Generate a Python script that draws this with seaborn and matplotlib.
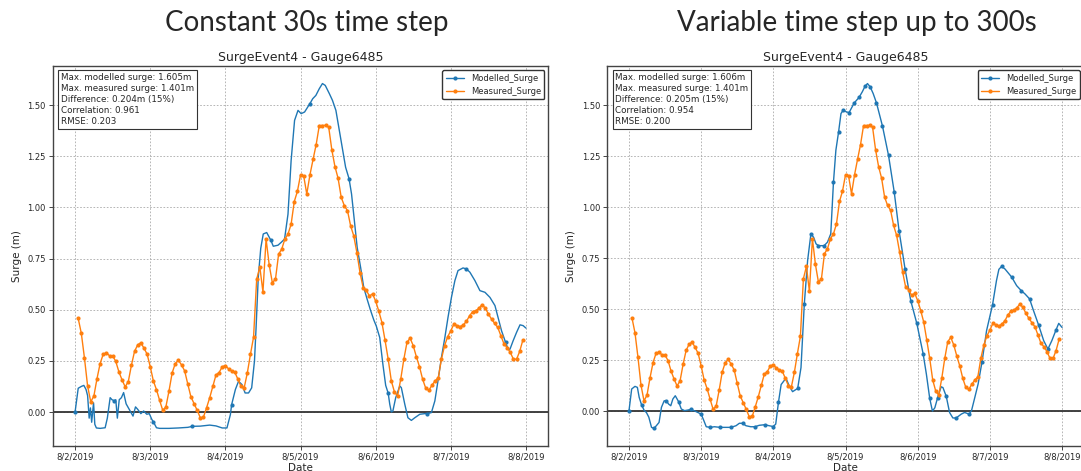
import pandas as pd
import numpy as np
from matplotlib import pyplot as plt
import matplotlib.dates as mdates
from matplotlib.ticker import MultipleLocator, FuncFormatter
import seaborn as sns

start = pd.Timestamp('2019-08-02')

# measured surge, hourly from 8/2 01:00 to 8/7 23:00 (same gauge data in both runs)
meas_hours = np.arange(1, 144)
meas_surge = [0.457, 0.384, 0.263, 0.127, 0.05, 0.078, 0.163, 0.237, 0.283, 0.289,
              0.275, 0.275, 0.247, 0.196, 0.157, 0.123, 0.149, 0.229, 0.297, 0.328,
              0.338, 0.312, 0.283, 0.222, 0.152, 0.109, 0.057, 0.008, 0.025, 0.103,
              0.191, 0.237, 0.253, 0.230, 0.201, 0.136, 0.074, 0.041, 0.008, -0.028,
              -0.025, 0.021, 0.070, 0.126, 0.181, 0.193, 0.221, 0.227, 0.211, 0.201,
              0.195, 0.16, 0.125, 0.118, 0.19, 0.281, 0.366, 0.649, 0.709, 0.587,
              0.845, 0.719, 0.632, 0.649, 0.771, 0.796, 0.845, 0.869, 0.918, 1.028,
              1.078, 1.158, 1.155, 1.065, 1.158, 1.234, 1.307, 1.400, 1.400, 1.401,
              1.392, 1.281, 1.199, 1.142, 1.049, 1.008, 0.984, 0.910, 0.861, 0.779,
              0.681, 0.608, 0.595, 0.567, 0.577, 0.542, 0.493, 0.437, 0.35, 0.258,
              0.152, 0.098, 0.078, 0.160, 0.258, 0.340, 0.361, 0.324, 0.270, 0.221,
              0.160, 0.116, 0.106, 0.132, 0.152, 0.168, 0.258, 0.324, 0.368, 0.397,
              0.430, 0.422, 0.417, 0.426, 0.443, 0.471, 0.490, 0.495, 0.507, 0.525,
              0.508, 0.479, 0.454, 0.433, 0.413, 0.373, 0.332, 0.315, 0.291, 0.258,
              0.258, 0.296, 0.351]

# modelled surge, constant 30s time step
const_hours = [0, 0.5, 1, 2, 2.8, 3.5, 4, 4.5, 4.9, 5.3, 5.9, 6.3, 6.8, 8, 9.6, 10.3,
               11.2, 11.8, 12.5, 13, 13.5, 14.1, 14.8, 15.5, 16.3, 17.6, 18.5, 19.3, 20,
               21, 21.9, 22.9, 23.7, 24.5, 25, 26, 27, 30, 33, 36, 37.5, 40, 43, 45, 47,
               48.5, 49.6, 50, 51.2, 52.2, 53.3, 54.3, 55.4, 56.4, 57.3, 57.8, 58.5, 59.3,
               60.1, 61.2, 62.5, 63.3, 64.8, 65.9, 66.9, 68, 69, 70.1, 71.2, 72.2, 73.3,
               75, 75.9, 76.9, 78, 79, 79.9, 81.2, 82.2, 83.3, 84.3, 85.4, 86.4, 87.5,
               88.3, 89.2, 90.1, 91.2, 92.2, 93.3, 94.3, 95.4, 96.2, 97.3, 98.3, 99.2,
               100, 100.5, 101, 101.5, 102.4, 103.7, 104.2, 105.3, 106.3, 107.4, 108.5,
               110.1, 111.7, 112.5, 113.8, 114.9, 115.9, 117, 118.1, 119.1, 120.2, 121.3,
               122.3, 123.9, 125, 126.1, 127.7, 129.3, 130.9, 132.5, 134.1, 135.1, 136.2,
               137.5, 138.3, 138.9, 139.9, 141, 142.1, 143.1, 144]
const_surge = [0.0, 0.06, 0.116, 0.125, 0.13, 0.11, 0.08, -0.03, 0.02, -0.05, 0.045,
               -0.06, -0.078, -0.08, -0.077, -0.03, 0.07, 0.06, 0.055, 0.06, -0.03, 0.06,
               0.07, 0.095, 0.04, 0.005, -0.02, 0.025, 0.013, -0.008, 0.005, -0.011,
               -0.008, -0.036, -0.048, -0.077, -0.08, -0.08, -0.078, -0.075, -0.07,
               -0.069, -0.064, -0.068, -0.078, -0.078, -0.013, 0.036, 0.11, 0.15, 0.134,
               0.093, 0.093, 0.118, 0.25, 0.41, 0.657, 0.80, 0.87, 0.877, 0.84, 0.81,
               0.815, 0.83, 0.845, 0.967, 1.229, 1.425, 1.474, 1.458, 1.466, 1.507, 1.531,
               1.547, 1.580, 1.605, 1.596, 1.556, 1.523, 1.474, 1.384, 1.286, 1.196, 1.14,
               1.065, 0.935, 0.804, 0.706, 0.608, 0.55, 0.50, 0.45, 0.42, 0.364, 0.234,
               0.13, 0.092, 0.038, 0.0, 0.005, 0.07, 0.127, 0.119, 0.038, -0.028, -0.041,
               -0.028, -0.011, -0.008, -0.008, -0.003, 0.054, 0.152, 0.266, 0.364, 0.462,
               0.560, 0.642, 0.691, 0.704, 0.699, 0.683, 0.642, 0.593, 0.585, 0.560,
               0.520, 0.462, 0.397, 0.340, 0.307, 0.307, 0.348, 0.389, 0.426, 0.422,
               0.410]
const_marks = [0, 12.5, 25, 37.5, 50, 62.5, 75, 87.5, 100, 112.5, 125, 137.5]

# modelled surge, variable time step up to 300s
var_hours = [0, 0.9, 2, 2.8, 3.4, 4.2, 5.1, 5.8, 6.6, 7.5, 8.3, 9.1, 10, 10.8, 11.7,
             12.4, 13.2, 13.9, 14.6, 15.4, 16.5, 17.4, 18.5, 19.6, 20.5, 21.6, 22.9, 24,
             24.9, 25.7, 27.1, 28.4, 30.3, 32.3, 33.9, 35.6, 36.7, 37.8, 38.9, 40.5,
             41.9, 43.3, 45.2, 46.6, 48, 48.8, 49.7, 50.6, 52.2, 53.3, 54.4, 56.1, 57.2,
             58.3, 59.4, 60.5, 61.4, 62.2, 63, 64.9, 66, 67.1, 68, 68.8, 69.7, 70.5,
             71.2, 72.3, 73.2, 74.9, 76.5, 77.6, 78.5, 79.3, 80.2, 81.2, 82.3, 84.3,
             86.3, 88.2, 89.8, 91.8, 93.7, 95.7, 97.8, 98.9, 100, 100.9, 101.7, 102.6,
             103.8, 104.4, 105.5, 106.6, 107.7, 108.8, 110.5, 111.6, 113.1, 113.9, 115,
             116.1, 117.4, 118.9, 120.9, 122.2, 123, 123.9, 125, 127.3, 128.9, 130.4,
             131.7, 133.2, 134.5, 136.2, 137.9, 139.3, 140.6, 142, 142.9, 144]
var_surge = [0.0, 0.108, 0.121, 0.116, 0.067, 0.03, 0.002, -0.007, -0.03, -0.08, -0.085,
             -0.072, -0.056, 0.018, 0.05, 0.05, 0.034, 0.026, 0.059, 0.075, 0.046, 0.01,
             0.002, 0.005, 0.008, 0.002, -0.007, -0.015, -0.047, -0.077, -0.08, -0.077,
             -0.08, -0.08, -0.08, -0.072, -0.06, -0.06, -0.072, -0.077, -0.077, -0.07,
             -0.067, -0.072, -0.076, -0.064, 0.042, 0.13, 0.161, 0.123, 0.095, 0.111,
             0.213, 0.525, 0.738, 0.869, 0.852, 0.82, 0.811, 0.811, 0.828, 0.869, 1.123,
             1.279, 1.369, 1.459, 1.475, 1.467, 1.464, 1.511, 1.538, 1.566, 1.593, 1.606,
             1.590, 1.557, 1.511, 1.397, 1.254, 1.074, 0.885, 0.697, 0.541, 0.430, 0.282,
             0.18, 0.062, 0.0, 0.016, 0.064, 0.119, 0.115, 0.072, -0.007, -0.034, -0.034,
             -0.015, -0.007, -0.015, 0.002, 0.067, 0.133, 0.242, 0.394, 0.522, 0.64,
             0.695, 0.709, 0.697, 0.656, 0.615, 0.591, 0.574, 0.550, 0.493, 0.422, 0.345,
             0.304, 0.345, 0.398, 0.43, 0.41]
var_marks = [0, 4.2, 8.3, 12.4, 16.5, 20.5, 24, 27.1, 30.3, 33.9, 37.8, 41.9, 45.2, 48,
             49.7, 56.1, 58.3, 60.5, 63, 64.9, 68, 69.7, 71.2, 73.2, 74.9, 76.5, 78.5,
             80.2, 82.3, 84.3, 86.3, 88.2, 89.8, 91.8, 93.7, 95.7, 97.8, 100, 102.6,
             105.5, 108.8, 113.1, 117.4, 120.9, 123.9, 127.3, 130.4, 133.2, 136.2,
             139.3, 142]

panel_titles = ['Constant 30s time step', 'Variable time step up to 300s']
stats_text = [
    'Max. modelled surge: 1.605m\nMax. measured surge: 1.401m\n'
    'Difference: 0.204m (15%)\nCorrelation: 0.961\nRMSE: 0.203',
    'Max. modelled surge: 1.606m\nMax. measured surge: 1.401m\n'
    'Difference: 0.205m (15%)\nCorrelation: 0.954\nRMSE: 0.200',
]


def to_time(hours):
    return start + pd.to_timedelta(np.asarray(hours, dtype=float), unit='h')


def date_fmt(x, pos):
    d = mdates.num2date(x)
    return f'{d.month}/{d.day}/{d.year}'


sns.set_style("ticks")

fig = plt.figure(figsize=(10.81, 4.71), dpi=100)
axes = [fig.add_axes([0.0486, 0.0539, 0.4588, 0.8053]),
        fig.add_axes([0.5618, 0.0539, 0.4407, 0.8053])]

runs = [(const_hours, const_surge, const_marks), (var_hours, var_surge, var_marks)]
title_x = [307 / 1081, 857 / 1081]

for ax, (hrs, surge, marks), txt, ptitle, tx in zip(axes, runs, stats_text,
                                                      panel_titles, title_x):
    every = [i for i, h in enumerate(hrs) if h in marks]
    sns.lineplot(x=to_time(hrs), y=surge, ax=ax, color='#1f77b4', lw=1.0,
                 marker='o', markersize=3, markeredgewidth=0, markevery=every,
                 errorbar=None, label='Modelled_Surge')
    sns.lineplot(x=to_time(meas_hours), y=meas_surge, ax=ax, color='#ff7f0e', lw=1.0,
                 marker='o', markersize=3, markeredgewidth=0,
                 errorbar=None, label='Measured_Surge')
    ax.axhline(0, color='#333333', lw=1.3, zorder=1)

    ax.xaxis.set_major_locator(mdates.DayLocator())
    ax.xaxis.set_major_formatter(FuncFormatter(date_fmt))
    ax.yaxis.set_major_locator(MultipleLocator(0.25))
    ax.grid(True, ls=(0, (2, 2)), color='#aaaaaa', lw=0.6)
    ax.tick_params(labelsize=6, length=3, width=0.6, pad=2)
    for s in ax.spines.values():
        s.set_visible(True)
        s.set_color('#444444')
        s.set_linewidth(1.0)

    ax.set_title('SurgeEvent4 - Gauge6485', fontsize=9, pad=4)
    ax.set_xlabel('Date', fontsize=7.5, labelpad=1)
    ax.set_ylabel('Surge (m)', fontsize=7.5, labelpad=4)

    ax.text(0.017, 0.983, txt, transform=ax.transAxes, va='top', ha='left',
            fontsize=6.3, linespacing=1.3,
            bbox=dict(boxstyle='square,pad=0.3', fc='white', ec='#333333', lw=0.8))
    ax.legend(loc='upper right', fontsize=6, frameon=True, edgecolor='#333333',
              framealpha=1, borderaxespad=0.5, handlelength=2.2)

    fig.text(tx, 1 - 23.5 / 471, ptitle, ha='center', va='center',
             fontsize=20, family=['Lato', 'DejaVu Sans'])

plt.savefig('out.png', dpi=100)
